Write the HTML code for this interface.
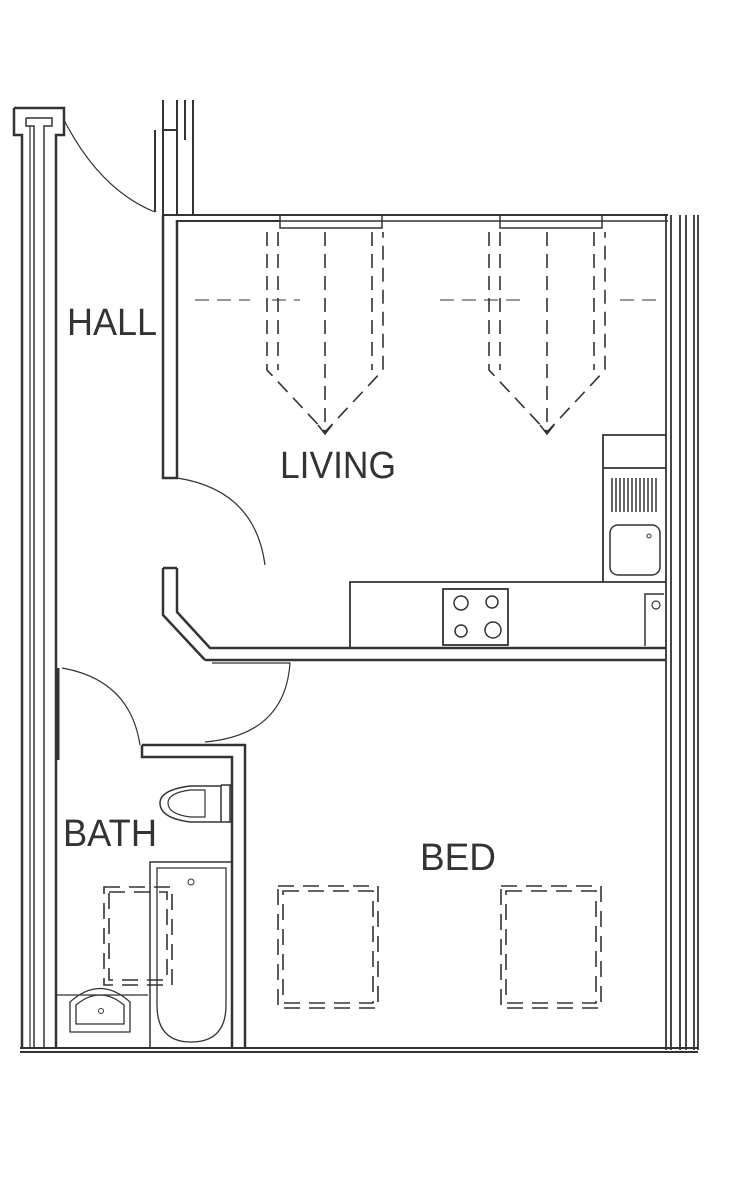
<!DOCTYPE html>
<html><head><meta charset="utf-8"><style>html,body{margin:0;padding:0;background:#fff}svg{display:block}</style></head>
<body>
<svg width="740" height="1200" viewBox="0 0 740 1200" xmlns="http://www.w3.org/2000/svg" fill="none" stroke="#333" stroke-width="2">
<!-- left exterior wall -->
<path d="M14,108 H64 V135 H56 V1048 M14,108 V135 H22 V1048" stroke-width="2.5"/>
<path d="M26,118 H52 V126 H44 V1048 M26,118 V126 H34 V1048" stroke-width="1.5"/>
<line x1="30" y1="126" x2="30" y2="1048" stroke-width="1.2"/>
<!-- hall top door -->
<path d="M64,120 Q100,190 155,212" stroke-width="1.2"/>
<path d="M163,100 V130 H177 V100 M155,130 V212 M163,130 V215 H177 M177,130 V215 M185,100 V140 M193,100 V215" stroke-width="2"/>
<!-- hall/living wall -->
<path d="M163,215 V478 H177 V220" stroke-width="2.5"/>
<!-- top wall living -->
<path d="M177,215 H668 M177,221 H280" stroke-width="2"/>
<path d="M280,215 V228 H382 V215 M280,221 H382 M500,215 V228 H602 V215 M500,221 H602" stroke-width="1.5"/>
<path d="M382,221 H500 M602,221 H668" stroke-width="1.5"/>
<!-- right exterior wall -->
<path d="M666,215 V1050 M671,215 V1050 M680,215 V1050 M686,215 V1050 M694,215 V1050 M698,215 V1050" stroke-width="1.8"/>
<!-- dashed curtains -->
<g stroke-dasharray="14,8" stroke-width="1.6">
<path d="M267,232 V370 L325,432 L383,370 V232 M278,232 V370 M372,232 V370 M325,232 V432"/>
<path d="M489,232 V370 L547,432 L605,370 V232 M500,232 V370 M594,232 V370 M547,232 V432"/>
<path d="M195,300 H250 M272,300 H300 M440,300 H520 M620,300 H660" stroke-width="1"/>
</g>
<path d="M318,425 L325,434 L332,425 M540,425 L547,434 L554,425" stroke-width="1.5"/>
<!-- door hall-living -->
<path d="M177,478 Q255,490 265,565" stroke-width="1.2"/>
<path d="M163,568 H177 M163,568 V615 L205,660 M177,568 V612 L210,648 H666 M205,660 H666" stroke-width="2.5"/>
<!-- kitchen -->
<path d="M350,648 V582 H603 V435 H666 M603,468 H666 M603,582 H666" stroke-width="1.8"/>
<g stroke-width="1.5"><path d="M612,478 V512 M616,478 V512 M620,478 V512 M624,478 V512 M628,478 V512 M632,478 V512 M636,478 V512 M640,478 V512 M644,478 V512 M648,478 V512 M652,478 V512 M656,478 V512"/></g>
<rect x="610" y="525" width="50" height="50" rx="8" stroke-width="1.5"/>
<circle cx="649" cy="536" r="2" stroke-width="1"/>
<rect x="443" y="589" width="65" height="56" stroke-width="1.8"/>
<circle cx="461" cy="603" r="7" stroke-width="1.5"/><circle cx="492" cy="602" r="6" stroke-width="1.5"/>
<circle cx="461" cy="631" r="6" stroke-width="1.5"/><circle cx="493" cy="630" r="8" stroke-width="1.5"/>
<path d="M645,646 V594 H664" stroke-width="1.5"/><circle cx="656" cy="605" r="4" stroke-width="1.2"/>
<!-- bedroom door -->
<path d="M212,663 H290 Q285,735 205,742" stroke-width="1.2"/>
<!-- bath door & walls -->
<path d="M58,668 V760" stroke-width="3"/>
<path d="M62,668 Q130,680 140,745" stroke-width="1.2"/>
<path d="M142,745 V757 H232 V1048 M142,745 H245 V1048" stroke-width="2.5"/>
<!-- toilet -->
<path d="M221,785 V822 M230,785 V822 M221,785 H232 M221,822 H232" stroke-width="1.5"/>
<path d="M221,786 H190 Q160,790 160,803 Q160,818 190,822 H221" stroke-width="1.5"/>
<path d="M205,790 H190 Q168,793 168,803 Q168,814 190,817 H205 Z" stroke-width="1.2"/>
<!-- bathtub -->
<rect x="150" y="862" width="82" height="186" stroke-width="1.5"/>
<path d="M157,868 H226 V1005 Q226,1042 191,1042 Q157,1042 157,1005 Z" stroke-width="1.3"/>
<circle cx="191" cy="882" r="3" stroke-width="1"/>
<!-- basin -->
<path d="M56,995 H148 M70,1030" stroke-width="1.3"/>
<path d="M70,1032 V1002 Q100,975 130,1002 V1032 Z M76,1024 V1005 Q100,985 124,1005 V1024 Z" stroke-width="1.3"/>
<circle cx="101" cy="1011" r="2.5" stroke-width="1"/>
<!-- dashed rects -->
<g stroke-dasharray="16,9" stroke-width="1.6">
<rect x="104" y="887" width="68" height="98"/><rect x="109" y="892" width="58" height="88"/>
<rect x="278" y="886" width="100" height="122"/><rect x="283" y="891" width="90" height="112"/>
<rect x="501" y="886" width="100" height="122"/><rect x="506" y="891" width="90" height="112"/>
</g>
<!-- bottom wall -->
<path d="M20,1048 H698 M20,1052 H698" stroke-width="2"/>
<!-- labels -->
<g fill="#333" stroke="none" font-family="'Liberation Sans', sans-serif" font-size="38">
<text x="67" y="335" textLength="90" lengthAdjust="spacingAndGlyphs">HALL</text>
<text x="280" y="478" textLength="116" lengthAdjust="spacingAndGlyphs">LIVING</text>
<text x="63" y="846" textLength="94" lengthAdjust="spacingAndGlyphs">BATH</text>
<text x="420" y="870" textLength="76" lengthAdjust="spacingAndGlyphs">BED</text>
</g>
</svg>
</body></html>
